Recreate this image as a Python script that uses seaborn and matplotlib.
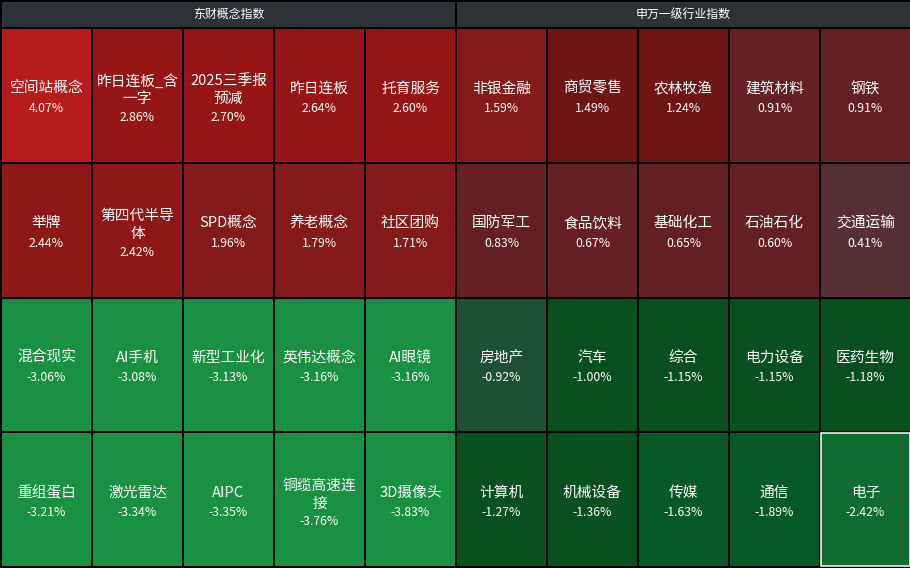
import numpy as np
import pandas as pd
import seaborn as sns
import matplotlib
matplotlib.use("Agg")
import matplotlib.pyplot as plt
from matplotlib.colors import ListedColormap, BoundaryNorm
from matplotlib.patches import Rectangle

# ---- data ----
concept_title = "东财概念指数"
concept_names = [
    "空间站概念", "昨日连板_含一字", "2025三季报预减", "昨日连板", "托育服务",
    "举牌", "第四代半导体", "SPD概念", "养老概念", "社区团购",
    "混合现实", "AI手机", "新型工业化", "英伟达概念", "AI眼镜",
    "重组蛋白", "激光雷达", "AIPC", "铜缆高速连接", "3D摄像头",
]
concept_pct = [
    4.07, 2.86, 2.70, 2.64, 2.60,
    2.44, 2.42, 1.96, 1.79, 1.71,
    -3.06, -3.08, -3.13, -3.16, -3.16,
    -3.21, -3.34, -3.35, -3.76, -3.83,
]

industry_title = "申万一级行业指数"
industry_names = [
    "非银金融", "商贸零售", "农林牧渔", "建筑材料", "钢铁",
    "国防军工", "食品饮料", "基础化工", "石油石化", "交通运输",
    "房地产", "汽车", "综合", "电力设备", "医药生物",
    "计算机", "机械设备", "传媒", "通信", "电子",
]
industry_pct = [
    1.59, 1.49, 1.24, 0.91, 0.91,
    0.83, 0.67, 0.65, 0.60, 0.41,
    -0.92, -1.00, -1.15, -1.15, -1.18,
    -1.27, -1.36, -1.63, -1.89, -2.42,
]
highlighted = "电子"

# stepped red/green scale for daily change (%)
bounds = [-10, -3, -2, -1.5, -0.95, 0, 0.5, 1, 1.5, 2, 2.5, 3, 10]
step_colors = [
    "#199042", "#0f6b30", "#075a27", "#08501f", "#1d5034",
    "#563036", "#652023", "#6e1616", "#841a1a", "#8e1818", "#961616", "#b71c1c",
]
cmap = ListedColormap(step_colors)
norm = BoundaryNorm(bounds, cmap.N)

sns.set_theme(style="white")
plt.rcParams["font.family"] = ["Noto Sans CJK SC", "DejaVu Sans"]

W, H, DPI = 910, 568, 100
fig = plt.figure(figsize=(W / DPI, H / DPI), dpi=DPI, facecolor="black")


def px_axes(x0, y0, x1, y1):
    return fig.add_axes([x0 / W, 1 - y1 / H, (x1 - x0) / W, (y1 - y0) / H])


def wrap(name, limit=5.6):
    lines, cur, width = [], "", 0.0
    for ch in name:
        w = 0.55 if ord(ch) < 128 else 1.0
        if width + w > limit and cur:
            lines.append(cur)
            cur, width = "", 0.0
        cur += ch
        width += w
    lines.append(cur)
    return lines


def draw_panel(x0, x1, title, names, pct):
    head = px_axes(x0 + 1, 2, x1 - 1, 27)
    head.set_facecolor("#2d3236")
    head.set_xticks([]); head.set_yticks([])
    for s in head.spines.values():
        s.set_visible(False)
    head.text(0.5, 0.5, title, color="white", fontsize=8.6,
              ha="center", va="center", transform=head.transAxes)

    ax = px_axes(x0, 28, x1, 567)
    grid = pd.DataFrame(np.array(pct).reshape(4, 5))
    sns.heatmap(grid, ax=ax, cmap=cmap, norm=norm, cbar=False,
                linewidths=1.1, linecolor="black", xticklabels=False,
                yticklabels=False)
    for i, (name, v) in enumerate(zip(names, pct)):
        r, c = divmod(i, 5)
        lines = wrap(name)
        n = len(lines)
        for k, line in enumerate(lines):
            dy = -7 - 7 * (n - 1) + 18 * k
            ax.annotate(line, (c + 0.5, r + 0.5), xytext=(0, -dy),
                        textcoords="offset pixels", ha="center", va="center",
                        color="white", fontsize=10.6)
        ax.annotate(f"{v:.2f}%", (c + 0.5, r + 0.5),
                    xytext=(0, -(13 + 9 * (n - 1))), textcoords="offset pixels",
                    ha="center", va="center", color="white", fontsize=8.8)
        if name == highlighted:
            ax.add_patch(Rectangle((c + 0.01, r + 0.006), 0.98, 0.988,
                                   fill=False, edgecolor="white", lw=1.1))
    return ax


draw_panel(1, 456, concept_title, concept_names, concept_pct)
draw_panel(456, 911, industry_title, industry_names, industry_pct)

fig.savefig("out.png", dpi=DPI, facecolor="black")
